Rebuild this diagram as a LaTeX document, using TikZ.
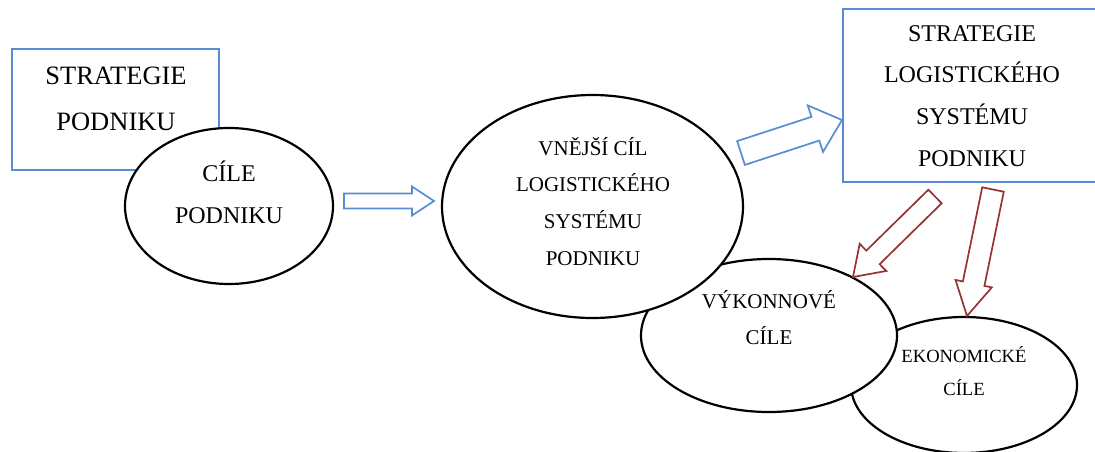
\documentclass[tikz,border=0pt]{standalone}
\usepackage{fontspec}
\setmainfont{Liberation Serif}
\usetikzlibrary{shapes.geometric,calc}

\definecolor{boxblue}{RGB}{88,141,212}
\definecolor{arrowred}{RGB}{150,52,50}

% Hollow block arrow: #1 style, #2 tail, #3 tip,
% #4 half shaft width, #5 half head width, #6 head length
\newcommand\drawblockarrow[6]{%
  \path ($(#3)!#6!(#2)$) coordinate (ba-base);
  \draw[#1] ($(#2)!#4!90:(#3)$)
    -- ($(ba-base)!#4!90:(#3)$)
    -- ($(ba-base)!#5!90:(#3)$)
    -- (#3)
    -- ($(ba-base)!#5!-90:(#3)$)
    -- ($(ba-base)!#4!-90:(#3)$)
    -- ($(#2)!#4!-90:(#3)$) -- cycle;}

\begin{document}
\begin{tikzpicture}[x=1pt,y=-1pt,
  bluebox/.style={draw=boxblue, line width=2pt, fill=white, rectangle, inner sep=0pt},
  bubble/.style={draw=black, line width=2.2pt, fill=white, ellipse, inner sep=0pt},
  caption/.style={align=center, inner sep=0pt, text=black},
  bluearrow/.style={draw=boxblue, line width=1.7pt, fill=white, line join=miter},
  redarrow/.style={draw=arrowred, line width=1.7pt, fill=white, line join=miter}]

\clip (0,0) rectangle (1095,452);
\fill[white] (0,0) rectangle (1095,452);

% frames and bubbles, back to front
\node[bluebox, minimum width=207pt, minimum height=121pt] (sp) at (115.5,109.5) {};
\node[bubble, minimum width=226pt, minimum height=136pt] (ec) at (964,385) {};
\node[bubble, minimum width=256pt, minimum height=153pt] (vc) at (769,335.5) {};
\node[bubble, minimum width=301pt, minimum height=223pt] (vl) at (592.5,206.5) {};
\node[bubble, minimum width=208pt, minimum height=156pt] (cp) at (229,206) {};
\node[bluebox, minimum width=258pt, minimum height=173pt] (sl) at (972,95.5) {};

% block arrows
\coordinate (a1t) at (344,201);   \coordinate (a1h) at (434,201);
\coordinate (a2t) at (741,153);   \coordinate (a2h) at (842,120);
\coordinate (a3t) at (935,196.5); \coordinate (a3h) at (853,277);
\coordinate (a4t) at (993,189.5); \coordinate (a4h) at (967,316);
\drawblockarrow{bluearrow}{a1t}{a1h}{7.5pt}{14.5pt}{22pt}
\drawblockarrow{bluearrow}{a2t}{a2h}{12.5pt}{24.5pt}{28pt}
\drawblockarrow{redarrow}{a3t}{a3h}{9.5pt}{19pt}{28pt}
\drawblockarrow{redarrow}{a4t}{a4h}{11pt}{18.5pt}{33pt}

% texts
\node[caption, font=\fontsize{26.5}{45.5}\selectfont] (sp-text) at (116,107.5)
  {\smash{STRATEGIE}\\\smash{PODNIKU}};
\node[caption, font=\fontsize{24}{41.5}\selectfont] (cp-text) at (229,202.4)
  {\smash{CÍLE}\\\smash{PODNIKU}};
\node[caption, font=\fontsize{21}{36.7}\selectfont] (vl-text) at (593,210.2)
  {\smash{VNĚJŠÍ CÍL}\\\smash{LOGISTICKÉHO}\\\smash{SYSTÉMU}\\\smash{PODNIKU}};
\node[caption, font=\fontsize{24}{41.7}\selectfont] (sl-text) at (972,103.7)
  {\smash{STRATEGIE}\\\smash{LOGISTICKÉHO}\\\smash{SYSTÉMU}\\\smash{PODNIKU}};
\node[caption, font=\fontsize{21}{36}\selectfont] (vc-text) at (769,326.6)
  {\smash{VÝKONNOVÉ}\\\smash{CÍLE}};
\node[caption, font=\fontsize{18.6}{33}\selectfont] (ec-text) at (964,378.7)
  {\smash{EKONOMICKÉ}\\\smash{CÍLE}};
\end{tikzpicture}
\end{document}
